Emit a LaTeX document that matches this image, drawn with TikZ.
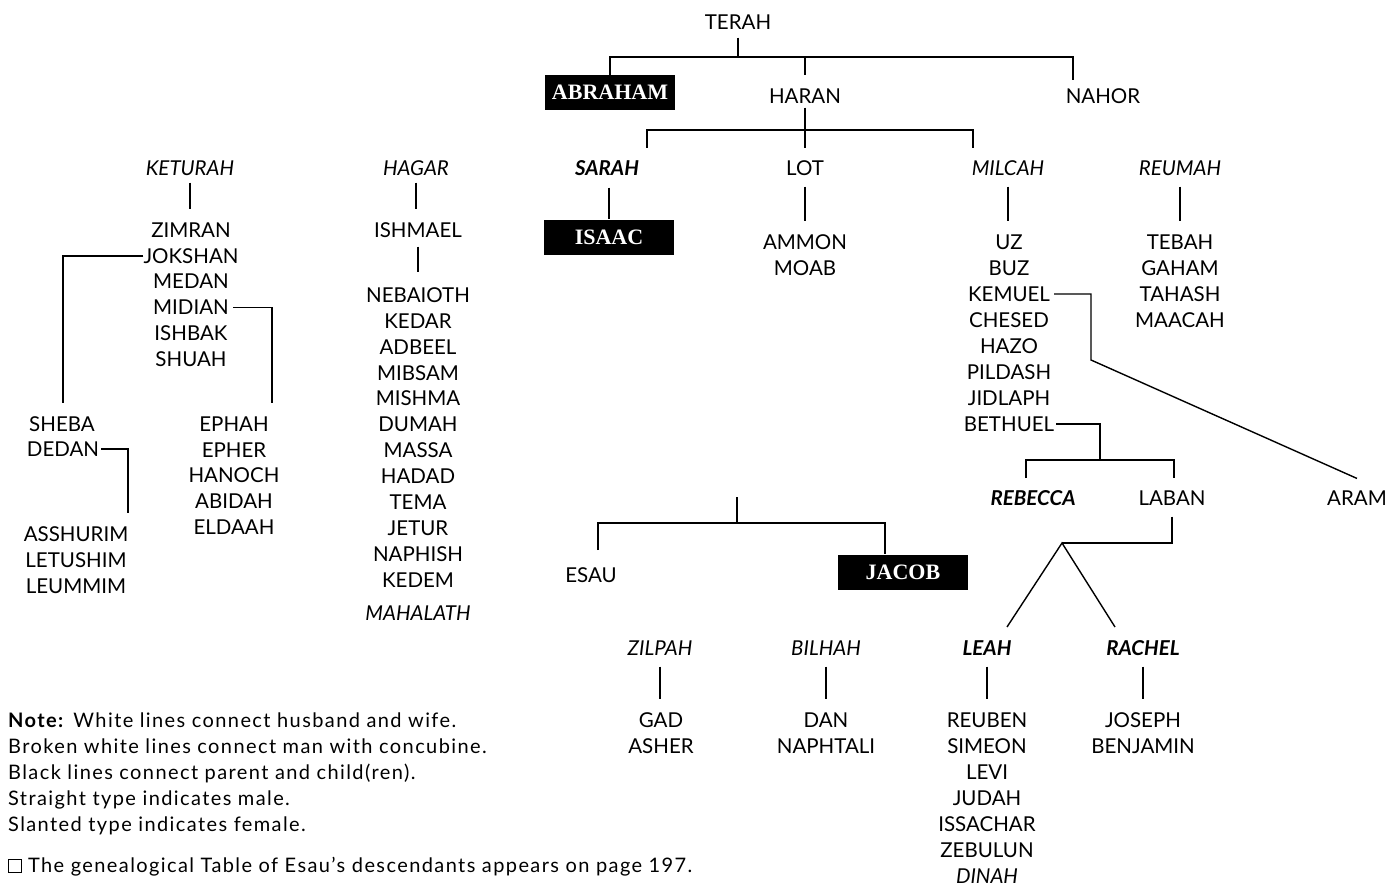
\documentclass[tikz,border=0pt]{standalone}
\usepackage{fontspec}
\setmainfont{Lato}
\newfontfamily\herofont{Liberation Serif}
\newfontfamily\notefont[LetterSpace=7]{Lato}
\begin{document}
\begin{tikzpicture}[x=1pt,y=-1pt]
\tikzset{
  nm/.style={font=\fontsize{20.5}{24}\selectfont, inner sep=0pt, text height=14.7pt, text depth=0pt},
  fm/.style={nm, font=\fontsize{20.5}{24}\selectfont\itshape},
  wf/.style={nm, font=\fontsize{20.5}{24}\selectfont\bfseries\itshape},
  hero/.style={fill=black, text=white, font=\herofont\bfseries\fontsize{22}{24}\selectfont, minimum width=130pt, minimum height=35pt, inner sep=0pt},
  kin/.style={line width=1.4pt, black},
  stub/.style={kin, shorten <=11pt, shorten >=13pt},
  note/.style={font=\notefont\fontsize{20}{22}\selectfont, inner sep=0pt, anchor=base west}
}
\useasboundingbox (0,0) rectangle (1398,888);
% ---------- top generation ----------
\node[nm] (terah) at (738,22) {TERAH};
\node[hero] (abraham) at (610,92.5) {ABRAHAM};
\node[nm] (haran) at (805,96) {HARAN};
\node[nm] (nahor) at (1103,96) {NAHOR};
\coordinate (tJ) at (738,57);
\coordinate (nahorDrop) at (1073,80);
\coordinate (haranDrop) at (805,75);
\draw[kin] ([yshift=-8pt]terah.south) -- (tJ);
\draw[kin] (abraham.north) |- (tJ) -| (nahorDrop);
\draw[kin] (tJ -| haranDrop) -- (haranDrop);
% ---------- Haran's children ----------
\node[wf] (sarah) at (607,168) {SARAH};
\node[nm] (lot) at (805,168) {LOT};
\node[fm] (milcah) at (1008,168) {MILCAH};
\node[fm] (reumah) at (1180,168) {REUMAH};
\coordinate (hJ) at (805,130);
\coordinate (sarahDrop) at (647,148);
\coordinate (milcahDrop) at (973,148);
\draw[kin] ([yshift=-4pt]haran.south) -- (hJ);
\draw[kin] (sarahDrop) |- (hJ) -| (milcahDrop);
\draw[kin] (hJ) -- ([yshift=12pt]lot.north);
% ---------- Isaac, Lot's sons ----------
\node[hero] (isaac) at (609,237) {ISAAC};
\draw[kin, shorten <=12pt] (sarah.south -| isaac.north) -- (isaac.north);
\node[nm] (ammon) at (805,242) {AMMON};
\node[nm] (moab) at (805,268) {MOAB};
\draw[stub] (lot.south) -- (lot.south |- ammon.north);
% ---------- Milcah's sons ----------
\foreach \k/\t [count=\i from 0] in {uz/UZ,buz/BUZ,kemuel/KEMUEL,chesed/CHESED,hazo/HAZO,pildash/PILDASH,jidlaph/JIDLAPH,bethuel/BETHUEL}
  \node[nm] (\k) at (1009,242+26*\i) {\t};
\draw[stub] (milcah.south) -- (milcah.south |- uz.north);
% ---------- Reumah's sons ----------
\foreach \k/\t [count=\i from 0] in {tebah/TEBAH,gaham/GAHAM,tahash/TAHASH,maacah/MAACAH}
  \node[nm] (\k) at (1180,242+26*\i) {\t};
\draw[stub] (reumah.south) -- (reumah.south |- tebah.north);
% ---------- Kemuel -> Aram ----------
\node[nm] (aram) at (1357,498) {ARAM};
\coordinate (kBend) at (1091,360);
\draw[kin] ([xshift=4pt]kemuel.east) -| (kBend) -- ([yshift=12pt]aram.north);
% ---------- Bethuel's children ----------
\node[wf] (rebecca) at (1033,498) {REBECCA};
\node[nm] (laban) at (1172,498) {LABAN};
\coordinate (bJ) at (1100,460);
\coordinate (rebDrop) at (1026,478);
\coordinate (labDrop) at (1174,478);
\draw[kin] ([xshift=2pt]bethuel.east) -| (bJ);
\draw[kin] (rebDrop) |- (bJ) -| (labDrop);
% ---------- Laban's daughters ----------
\node[wf] (leah) at (987,648) {LEAH};
\node[wf] (rachel) at (1143,648) {RACHEL};
\coordinate (lJ) at (1062,543);
\coordinate (leahTop) at (1007,627);
\coordinate (rachelTop) at (1115,627);
\draw[kin] ([yshift=-11pt]laban.south) |- (lJ);
\draw[kin] (leahTop) -- (lJ) -- (rachelTop);
% ---------- Isaac's sons ----------
\node[nm] (esau) at (591,575) {ESAU};
\node[hero] (jacob) at (903,572) {JACOB};
\coordinate (jTop) at (737,497);
\coordinate (jJ) at (737,523);
\coordinate (esauDrop) at (598,550);
\draw[kin] (jTop) -- (jJ);
\draw[kin] (esauDrop) |- (jJ) -| ([xshift=-18pt]jacob.north);
% ---------- Jacob's wives and concubines ----------
\node[fm] (zilpah) at (660,648) {ZILPAH};
\node[fm] (bilhah) at (826,648) {BILHAH};
\node[nm] (gad) at (661,720) {GAD};
\node[nm] (asher) at (661,746) {ASHER};
\node[nm] (dan) at (826,720) {DAN};
\node[nm] (naphtali) at (826,746) {NAPHTALI};
\draw[stub] (zilpah.south) -- (zilpah.south |- gad.north);
\draw[stub] (bilhah.south) -- (bilhah.south |- dan.north);
\foreach \k/\t [count=\i from 0] in {reuben/REUBEN,simeon/SIMEON,levi/LEVI,judah/JUDAH,issachar/ISSACHAR,zebulun/ZEBULUN}
  \node[nm] (\k) at (987,720+26*\i) {\t};
\node[fm] (dinah) at (987,876) {DINAH};
\draw[stub] (leah.south) -- (leah.south |- reuben.north);
\node[nm] (joseph) at (1143,720) {JOSEPH};
\node[nm] (benjamin) at (1143,746) {BENJAMIN};
\draw[stub] (rachel.south) -- (rachel.south |- joseph.north);
% ---------- Keturah ----------
\node[fm] (keturah) at (190,168) {KETURAH};
\foreach \k/\t [count=\i from 0] in {zimran/ZIMRAN,jokshan/JOKSHAN,medan/MEDAN,midian/MIDIAN,ishbak/ISHBAK,shuah/SHUAH}
  \node[nm] (\k) at (191,230+25.8*\i) {\t};
\draw[stub, shorten <=7pt] (keturah.south) -- (keturah.south |- zimran.north);
\node[nm] (sheba) at (62,424) {SHEBA};
\node[nm] (dedan) at (63,449) {DEDAN};
\coordinate (shebaDrop) at (63,403);
\draw[kin] (jokshan.west) -| (shebaDrop);
\foreach \k/\t [count=\i from 0] in {ephah/EPHAH,epher/EPHER,hanoch/HANOCH,abidah/ABIDAH,eldaah/ELDAAH}
  \node[nm] (\k) at (234,424+25.75*\i) {\t};
\coordinate (ephahDrop) at (272,403);
\draw[kin] ([xshift=4pt]midian.east) -| (ephahDrop);
\foreach \k/\t [count=\i from 0] in {asshurim/ASSHURIM,letushim/LETUSHIM,leummim/LEUMMIM}
  \node[nm] (\k) at (76,534+26*\i) {\t};
\coordinate (assDrop) at (128,513);
\draw[kin] ([xshift=2pt]dedan.east) -| (assDrop);
% ---------- Hagar ----------
\node[fm] (hagar) at (416,168) {HAGAR};
\node[nm] (ishmael) at (418,230) {ISHMAEL};
\draw[stub, shorten <=7pt] (hagar.south) -- (hagar.south |- ishmael.north);
\foreach \k/\t [count=\i from 0] in {nebaioth/NEBAIOTH,kedar/KEDAR,adbeel/ADBEEL,mibsam/MIBSAM,mishma/MISHMA,dumah/DUMAH,massa/MASSA,hadad/HADAD,tema/TEMA,jetur/JETUR,naphish/NAPHISH,kedem/KEDEM}
  \node[nm] (\k) at (418,295+25.9*\i) {\t};
\node[fm] (mahalath) at (418,613) {MAHALATH};
\draw[kin, shorten <=9pt, shorten >=15pt] (ishmael.south) -- (ishmael.south |- nebaioth.north);
% ---------- note ----------
\node[note] (n1) at (8,727) {\textbf{Note:} White lines connect husband and wife.};
\node[note] (n2) at (8,753) {Broken white lines connect man with concubine.};
\node[note] (n3) at (8,779) {Black lines connect parent and child(ren).};
\node[note] (n4) at (8,805) {Straight type indicates male.};
\node[note] (n5) at (8,831) {Slanted type indicates female.};
\node[note] (n6) at (8,872) {{\setlength{\fboxsep}{0pt}\setlength{\fboxrule}{0.7pt}\fbox{\rule{0pt}{12pt}\rule{12pt}{0pt}}} The genealogical Table of Esau’s descendants appears on page 197.};
\end{tikzpicture}
\end{document}
